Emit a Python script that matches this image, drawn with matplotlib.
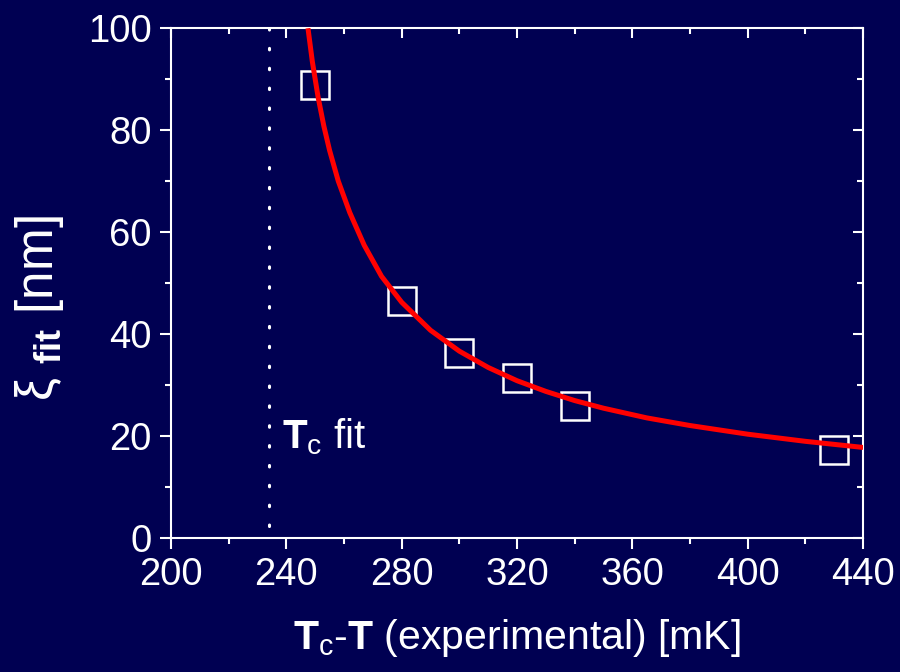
import matplotlib
matplotlib.use("Agg")
import matplotlib.pyplot as plt
from matplotlib.ticker import MultipleLocator

plt.rcParams['font.family'] = ['Liberation Sans', 'DejaVu Sans']
plt.rcParams['mathtext.fontset'] = 'custom'
plt.rcParams['mathtext.rm'] = 'Liberation Sans'
plt.rcParams['mathtext.bf'] = 'Liberation Sans:bold'
plt.rcParams['mathtext.it'] = 'Liberation Sans:italic'

# measured points
t_meas = [250, 280, 300, 320, 340, 430]
xi_meas = [88.9, 46.4, 36.2, 31.4, 25.8, 17.1]

# fit curve
t_fit = [247.5, 249, 251, 253, 255, 258, 262, 267, 273, 280, 290, 300,
         310, 320, 330, 340, 350, 365, 380, 400, 420, 440]
xi_fit = [100, 93.5, 86.5, 80.8, 76.0, 70.0, 63.8, 57.4, 51.3, 46.2, 40.7, 36.6,
          33.4, 30.8, 28.7, 26.9, 25.4, 23.5, 22.0, 20.3, 18.9, 17.7]

# fitted Tc marker
tc_fit = 234
tc_line_y = [100, 2]

bg = '#000052'
fg = 'white'

fig = plt.figure(figsize=(9, 6.72), dpi=100, facecolor=bg)
ax = fig.add_axes([0.19, 0.2, 0.769, 0.758], facecolor=bg)

ax.plot(t_meas, xi_meas, 's', ms=19.5, mfc='none', mec=fg, mew=1.8, zorder=3)
ax.plot(t_fit, xi_fit, color='#ff0000', lw=3.6, zorder=4, solid_capstyle='butt')
ax.plot([tc_fit, tc_fit], tc_line_y, color=fg, lw=2.2,
        linestyle=(0, (0.5, 6.0)), dash_capstyle='round', zorder=2)

ax.text(238.6, 17.5, r'$\mathbf{T}_\mathrm{c}$ fit', color=fg, fontsize=29,
        ha='left', va='baseline')

ax.set_xlim(200, 440)
ax.set_ylim(0, 100)
ax.xaxis.set_major_locator(MultipleLocator(40))
ax.xaxis.set_minor_locator(MultipleLocator(20))
ax.yaxis.set_major_locator(MultipleLocator(20))
ax.yaxis.set_minor_locator(MultipleLocator(10))

for s in ax.spines.values():
    s.set_color(fg)
    s.set_linewidth(1.5)

ax.tick_params(which='both', direction='out', colors=fg, width=1.5,
               labelsize=27.5, labelcolor=fg)
ax.tick_params(which='major', length=8, pad=6)
ax.tick_params(which='minor', length=4)

# inward ticks on top and right
top = ax.secondary_xaxis('top')
top.xaxis.set_major_locator(MultipleLocator(40))
top.xaxis.set_minor_locator(MultipleLocator(20))
top.tick_params(which='both', direction='in', colors=fg, width=1.5, labeltop=False)
top.tick_params(which='major', length=7.5)
top.tick_params(which='minor', length=4)
top.spines['top'].set_visible(False)

right = ax.secondary_yaxis('right')
right.yaxis.set_major_locator(MultipleLocator(20))
right.yaxis.set_minor_locator(MultipleLocator(10))
right.tick_params(which='both', direction='in', colors=fg, width=1.5, labelright=False)
right.tick_params(which='major', length=7.5)
right.tick_params(which='minor', length=4)
right.spines['right'].set_visible(False)

ax.set_xlabel(r'$\mathbf{T}_\mathrm{c}$-$\mathbf{T}$ (experimental) [mK]',
              color=fg, fontsize=29.5)
ax.xaxis.set_label_coords(0.5, -0.155)
ax.set_ylabel(r'ξ $_\mathbf{fit}$ [nm]', color=fg, fontsize=37)
ax.yaxis.set_label_coords(-0.152, 0.45)

fig.savefig('out.png', dpi=100, facecolor=bg)
